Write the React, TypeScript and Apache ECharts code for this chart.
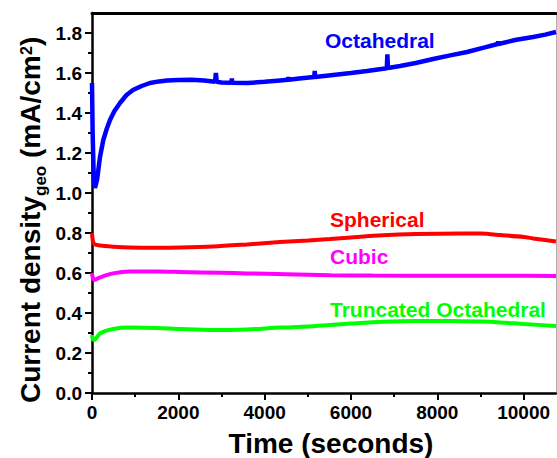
import React, { useEffect, useRef } from "react";
import * as echarts from "echarts";

// ---- Data ----
const octTime = [0, 15, 40, 70, 120, 185, 262, 340, 417, 520, 649, 800, 950, 1150, 1344, 1550, 1738, 2000, 2300, 2600, 2850, 2870, 2890, 3000, 3230, 3240, 3250, 3600, 4000, 4357, 4540, 4550, 4560, 4800, 5150, 5160, 5170, 5585, 6000, 6373, 6830, 6843, 6856, 7138, 7500, 7903, 8300, 8690, 9100, 9400, 9410, 9420, 9800, 10220, 10500, 10750];
const octValues = [1.55, 1.3, 1.08, 1.025, 1.07, 1.18, 1.265, 1.32, 1.365, 1.41, 1.45, 1.49, 1.515, 1.535, 1.55, 1.558, 1.562, 1.565, 1.566, 1.562, 1.556, 1.6, 1.556, 1.553, 1.551, 1.572, 1.551, 1.55, 1.556, 1.563, 1.566, 1.58, 1.566, 1.572, 1.58, 1.61, 1.58, 1.59, 1.6, 1.61, 1.624, 1.693, 1.625, 1.635, 1.65, 1.67, 1.688, 1.705, 1.728, 1.745, 1.758, 1.745, 1.765, 1.78, 1.792, 1.805];

const sphTime = [0, 20, 50, 185, 500, 880, 1500, 2040, 2804, 3592, 4357, 5000, 5516, 6000, 6744, 7500, 8528, 9000, 9455, 10000, 10220, 10750];
const sphValues = [0.8, 0.76, 0.745, 0.737, 0.731, 0.727, 0.726, 0.727, 0.732, 0.743, 0.755, 0.763, 0.77, 0.778, 0.789, 0.795, 0.798, 0.797, 0.79, 0.78, 0.773, 0.757];

const cubTime = [0, 20, 50, 185, 487, 880, 1500, 2040, 3000, 3592, 4500, 5516, 6500, 8000, 9500, 10750];
const cubValues = [0.6, 0.575, 0.565, 0.578, 0.598, 0.607, 0.607, 0.605, 0.601, 0.598, 0.594, 0.589, 0.587, 0.586, 0.586, 0.585];

const truTime = [0, 20, 50, 185, 487, 880, 1500, 2040, 2804, 3592, 4357, 5000, 5516, 6000, 6744, 7500, 8300, 9000, 9455, 10000, 10750];
const truValues = [0.29, 0.27, 0.265, 0.298, 0.32, 0.327, 0.325, 0.32, 0.315, 0.318, 0.327, 0.332, 0.34, 0.347, 0.356, 0.36, 0.36, 0.357, 0.353, 0.345, 0.335];

const xMajorTicks = [0, 2000, 4000, 6000, 8000, 10000];
const xMinorTicks = [1000, 3000, 5000, 7000, 9000];
const yMajorTicks = [0, 0.2, 0.4, 0.6, 0.8, 1.0, 1.2, 1.4, 1.6, 1.8];
const yMinorTicks = [0.1, 0.3, 0.5, 0.7, 0.9, 1.1, 1.3, 1.5, 1.7];

const seriesNames = ["Octahedral", "Spherical", "Cubic", "Truncated Octahedral"];
const seriesColors = ["#0000ff", "#ff0000", "#ff00ff", "#00ff00"];

const X_MAX = 10750;
const Y_MAX = 1.9;
const FONT = '"Liberation Sans", Arial, sans-serif';

const zip = (t: number[], v: number[]) => t.map((x, i) => [x, v[i]]);

export default function App() {
  const ref = useRef<HTMLDivElement>(null);

  useEffect(() => {
    if (!ref.current) return;
    const chart = echarts.init(ref.current, undefined, { renderer: "svg" });

    const lineStyle = { color: "#000", width: 2.5 };
    const labelStyle = { color: "#000", fontSize: 19, fontWeight: "bold" as const, fontFamily: FONT };

    const datasets = [
      zip(octTime, octValues),
      zip(sphTime, sphValues),
      zip(cubTime, cubValues),
      zip(truTime, truValues),
    ];
    const widths = [4.5, 4, 4, 4];

    const labelPos = [
      [325, 40],
      [330, 219],
      [330, 256.5],
      [330, 309.5],
    ];

    chart.setOption({
      animation: false,
      backgroundColor: "#fff",
      grid: { left: 92, top: 13, right: 1, bottom: 65, containLabel: false },
      xAxis: [
        {
          type: "value",
          min: 0,
          max: X_MAX,
          position: "bottom",
          axisLine: { show: true, lineStyle, onZero: false },
          axisTick: { show: true, length: 7, lineStyle: { color: "#000", width: 2 }, customValues: xMajorTicks },
          axisLabel: { ...labelStyle, margin: 10, customValues: xMajorTicks, formatter: (v: number) => String(v) },
          splitLine: { show: false },
        },
        {
          type: "value",
          min: 0,
          max: X_MAX,
          position: "bottom",
          axisLine: { show: false },
          axisTick: { show: true, length: 4, lineStyle: { color: "#000", width: 2 }, customValues: xMinorTicks },
          axisLabel: { show: false },
          splitLine: { show: false },
        },
        {
          type: "value",
          min: 0,
          max: X_MAX,
          position: "top",
          axisLine: { show: true, lineStyle: { color: "#000", width: 3 }, onZero: false },
          axisTick: { show: false },
          axisLabel: { show: false },
          splitLine: { show: false },
        },
      ],
      yAxis: [
        {
          type: "value",
          min: 0,
          max: Y_MAX,
          position: "left",
          axisLine: { show: true, lineStyle, onZero: false },
          axisTick: { show: true, length: 7, lineStyle: { color: "#000", width: 2 }, customValues: yMajorTicks },
          axisLabel: { ...labelStyle, margin: 10, customValues: yMajorTicks, formatter: (v: number) => v.toFixed(1) },
          splitLine: { show: false },
        },
        {
          type: "value",
          min: 0,
          max: Y_MAX,
          position: "left",
          offset: 0,
          axisLine: { show: false },
          axisTick: { show: true, length: 4, lineStyle: { color: "#000", width: 2 }, customValues: yMinorTicks },
          axisLabel: { show: false },
          splitLine: { show: false },
        },
        {
          type: "value",
          min: 0,
          max: Y_MAX,
          position: "right",
          axisLine: { show: true, lineStyle: { color: "#b0b0b0", width: 1 }, onZero: false },
          axisTick: { show: false },
          axisLabel: { show: false },
          splitLine: { show: false },
        },
      ],
      series: datasets.map((d, i) => ({
        name: seriesNames[i],
        type: "line",
        xAxisIndex: 0,
        yAxisIndex: 0,
        data: d,
        showSymbol: false,
        symbol: "none",
        smooth: i === 0 ? false : 0.3,
        clip: true,
        lineStyle: { color: seriesColors[i], width: widths[i] },
        itemStyle: { color: seriesColors[i] },
        z: 3,
      })),
      graphic: [
        ...seriesNames.map((name, i) => ({
          type: "text",
          left: undefined,
          x: labelPos[i][0],
          y: labelPos[i][1],
          silent: true,
          style: {
            text: name,
            fill: seriesColors[i],
            fontSize: 21,
            fontWeight: "bold",
            fontFamily: FONT,
            align: "left",
            verticalAlign: "middle",
          },
        })),
        {
          type: "text",
          x: 331,
          y: 443,
          silent: true,
          style: {
            text: "Time (seconds)",
            fill: "#000",
            fontSize: 28,
            fontWeight: "bold",
            fontFamily: FONT,
            align: "center",
            verticalAlign: "middle",
          },
        },
        {
          type: "group",
          x: 40,
          y: 403,
          rotation: Math.PI / 2,
          silent: true,
          children: [
            {
              type: "text",
              x: 0,
              y: -10,
              style: { text: "Current density", fill: "#000", fontSize: 28, fontWeight: "bold", fontFamily: FONT, align: "left", verticalAlign: "middle" },
            },
            {
              type: "text",
              x: 207,
              y: 0,
              style: { text: "geo", fill: "#000", fontSize: 17, fontWeight: "bold", fontFamily: FONT, align: "left", verticalAlign: "middle" },
            },
            {
              type: "text",
              x: 245,
              y: -10,
              style: { text: "(mA/cm", fill: "#000", fontSize: 28, fontWeight: "bold", fontFamily: FONT, align: "left", verticalAlign: "middle" },
            },
            {
              type: "text",
              x: 348,
              y: -14,
              style: { text: "2", fill: "#000", fontSize: 16, fontWeight: "bold", fontFamily: FONT, align: "left", verticalAlign: "middle" },
            },
            {
              type: "text",
              x: 357,
              y: -10,
              style: { text: ")", fill: "#000", fontSize: 28, fontWeight: "bold", fontFamily: FONT, align: "left", verticalAlign: "middle" },
            },
          ],
        },
      ],
    });

    return () => chart.dispose();
  }, []);

  return <div ref={ref} style={{ width: 557, height: 458, position: "absolute", left: 0, top: 0 }} />;
}
